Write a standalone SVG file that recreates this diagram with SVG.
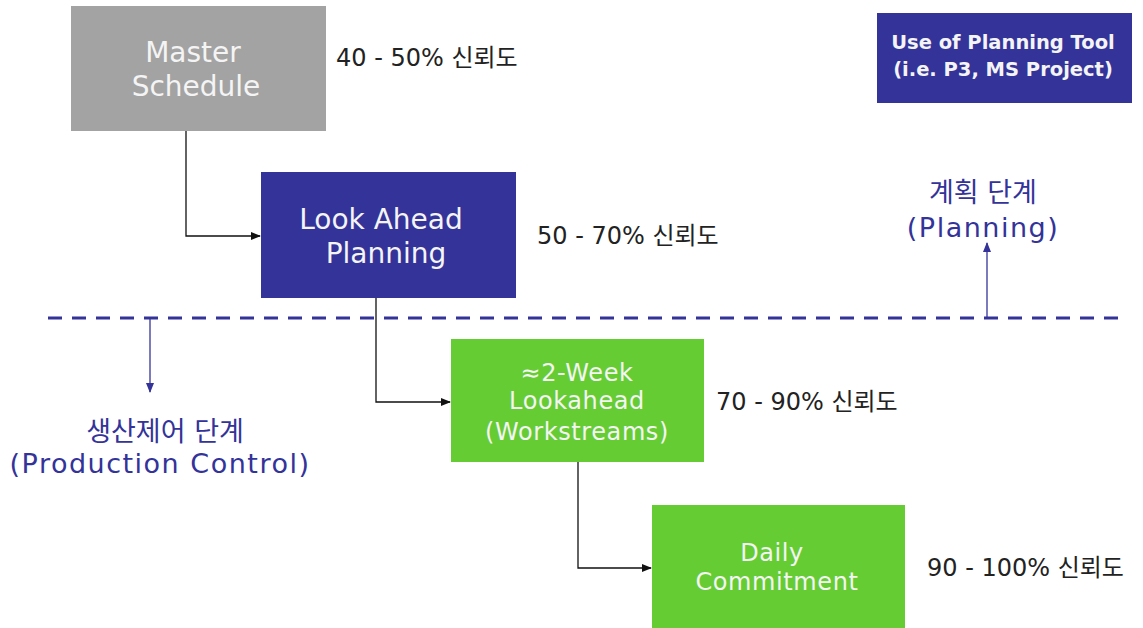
<svg xmlns="http://www.w3.org/2000/svg" width="1143" height="628" viewBox="0 0 1143 628">
<defs>
<style>
.node text{font-family:"DejaVu Sans","Noto Sans",sans-serif;fill:#f4f4f4;text-anchor:middle}
.big{font-size:28px}
.mid{font-size:24px;letter-spacing:0.6px}
.pct{font-family:"DejaVu Sans","Noto Sans CJK KR",sans-serif;font-size:24px;fill:#222}
.phase{font-family:"DejaVu Sans","Noto Sans CJK KR",sans-serif;font-size:27px;fill:#333399;text-anchor:middle}
.en{letter-spacing:1.5px}
.conn{fill:none;stroke:#111;stroke-width:1.3}
.phasearrow{fill:none;stroke:#333399;stroke-width:1.3}
</style>
<marker id="ah" markerWidth="10" markerHeight="8" refX="9" refY="4" orient="auto" markerUnits="userSpaceOnUse">
<path d="M0,0 L10,4 L0,8 Z" fill="#111"/>
</marker>
<marker id="ahb" markerWidth="10" markerHeight="8" refX="9" refY="4" orient="auto" markerUnits="userSpaceOnUse">
<path d="M0,0 L10,4 L0,8 Z" fill="#333399"/>
</marker>
</defs>
<rect width="1143" height="628" fill="#fff"/>
<g id="connectors">
<polyline class="conn" points="186,131 186,236 260,236" marker-end="url(#ah)"/>
<polyline class="conn" points="376,298 376,402 450,402" marker-end="url(#ah)"/>
<polyline class="conn" points="578,462 578,568 651,568" marker-end="url(#ah)"/>
<line x1="48" y1="318" x2="1126" y2="318" stroke="#333399" stroke-width="3" stroke-dasharray="14,10"/>
<line class="phasearrow" x1="150" y1="318" x2="150" y2="392" marker-end="url(#ahb)"/>
<line class="phasearrow" x1="987" y1="318" x2="987" y2="243" marker-end="url(#ahb)"/>
</g>
<g id="master" class="node">
<rect x="71" y="6" width="255" height="125" fill="#a3a3a3"/>
<text class="big" x="193" y="62">Master</text>
<text class="big" x="196" y="96">Schedule</text>
</g>
<g id="lookahead" class="node">
<rect x="261" y="172" width="255" height="126" fill="#333399"/>
<text class="big" x="381" y="229">Look Ahead</text>
<text class="big" x="386" y="263">Planning</text>
</g>
<g id="twoweek" class="node">
<rect x="451" y="339" width="253" height="123" fill="#66cc33"/>
<text class="mid" x="577" y="381">≈2-Week</text>
<text class="mid" x="577" y="409">Lookahead</text>
<text class="mid" x="577" y="440">(Workstreams)</text>
</g>
<g id="daily" class="node">
<rect x="652" y="505" width="253" height="123" fill="#66cc33"/>
<text class="mid" x="772" y="561">Daily</text>
<text class="mid" x="777" y="590">Commitment</text>
</g>
<g id="tool" class="node">
<rect x="877" y="13" width="255" height="90" fill="#333399"/>
<text style="font-size:19.5px;font-weight:bold" x="1003" y="49">Use of Planning Tool</text>
<text style="font-size:19.5px;font-weight:bold" x="1003" y="76">(i.e. P3, MS Project)</text>
</g>
<g id="labels">
<text class="pct" x="336" y="66">40 - 50% 신뢰도</text>
<text class="pct" x="537" y="244">50 - 70% 신뢰도</text>
<text class="pct" x="716" y="410">70 - 90% 신뢰도</text>
<text class="pct" x="927" y="576">90 - 100% 신뢰도</text>
<text class="phase" x="983" y="202">계획 단계</text>
<text class="phase en" x="983" y="237">(Planning)</text>
<text class="phase" x="165" y="441">생산제어 단계</text>
<text class="phase en" x="160" y="473">(Production Control)</text>
</g>
</svg>
